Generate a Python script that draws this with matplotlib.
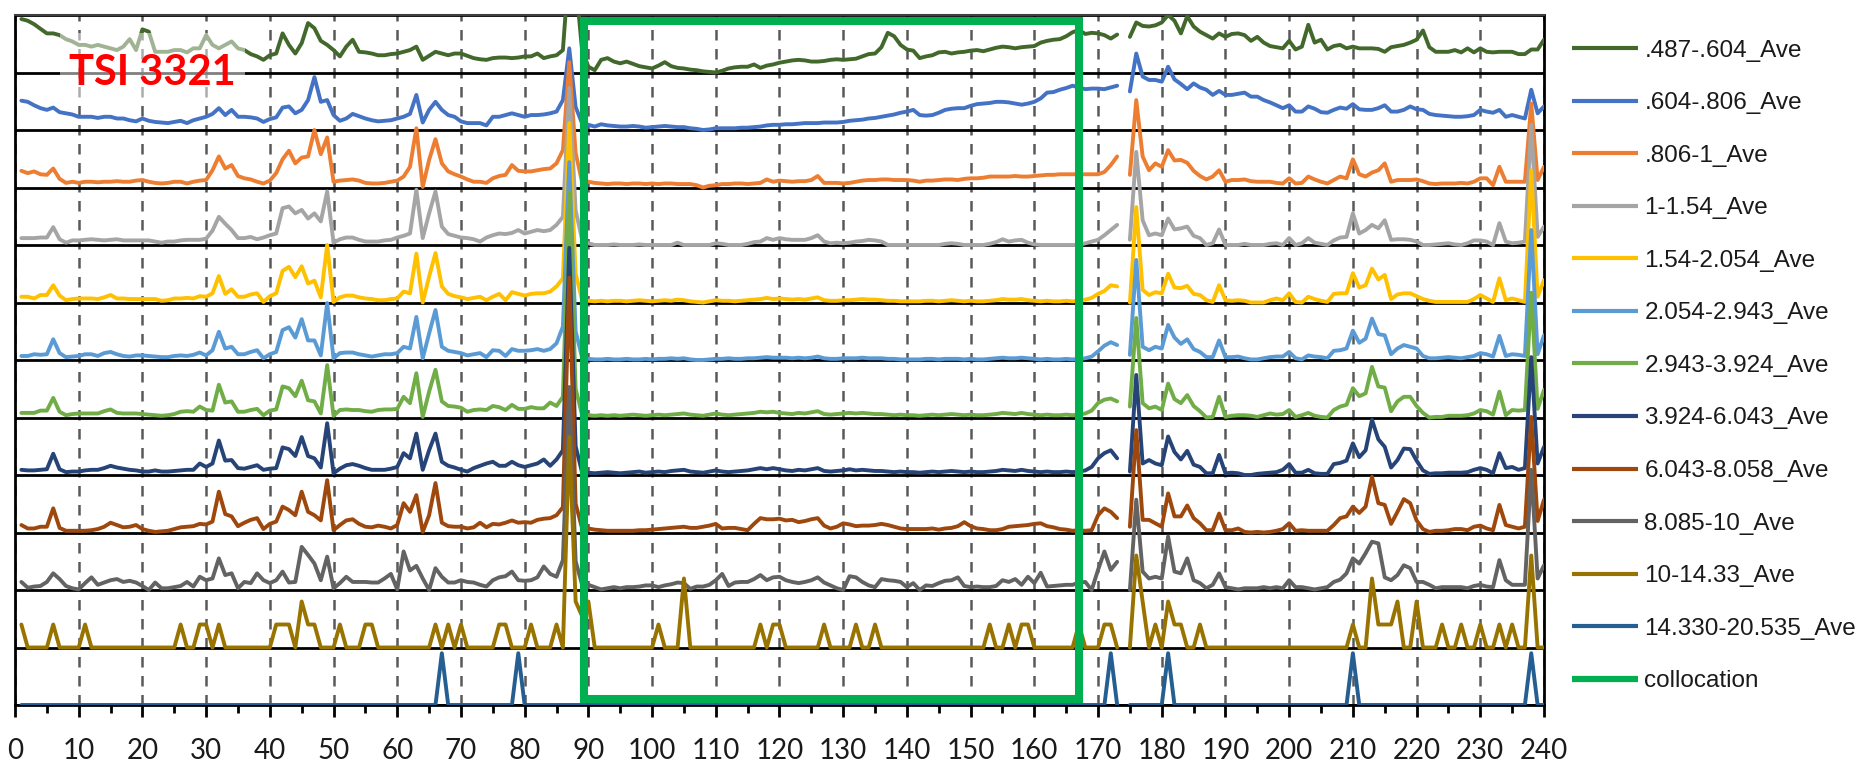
import numpy as np
import matplotlib
matplotlib.use("Agg")
import matplotlib.pyplot as plt
from matplotlib.lines import Line2D
from matplotlib.patches import Polygon, Rectangle

nan = float("nan")

# sample index (1..240); every channel is plotted in its own band of height 1
x = np.arange(1, 241)

labels = [".487-.604_Ave", ".604-.806_Ave", ".806-1_Ave", "1-1.54_Ave",
          "1.54-2.054_Ave", "2.054-2.943_Ave", "2.943-3.924_Ave",
          "3.924-6.043_Ave", "6.043-8.058_Ave", "8.085-10_Ave",
          "10-14.33_Ave", "14.330-20.535_Ave"]
colors = ["#43682b", "#4472c4", "#ed7d31", "#a5a5a5", "#ffc000", "#5b9bd5",
          "#70ad47", "#264478", "#9e480e", "#636363", "#997300", "#255e91"]

s_0487 = [0.93, 0.90, 0.84, 0.76, 0.68, 0.68, 0.65, 0.58, 0.54, 0.48,
          0.48, 0.45, 0.48, 0.45, 0.42, 0.39, 0.45, 0.58, 0.39, 0.75,
          0.71, 0.36, 0.36, 0.36, 0.39, 0.39, 0.35, 0.42, 0.42, 0.65,
          0.48, 0.42, 0.48, 0.54, 0.42, 0.39, 0.32, 0.28, 0.22, 0.30,
          0.33, 0.68, 0.48, 0.33, 0.51, 0.86, 0.77, 0.55, 0.48, 0.39,
          0.28, 0.45, 0.57, 0.36, 0.35, 0.33, 0.30, 0.30, 0.32, 0.33,
          0.36, 0.39, 0.45, 0.22, 0.29, 0.36, 0.33, 0.30, 0.33, 0.33,
          0.29, 0.25, 0.23, 0.22, 0.25, 0.26, 0.26, 0.25, 0.26, 0.28,
          0.28, 0.33, 0.25, 0.28, 0.30, 0.39, 1.90, 1.60, 0.40, 0.10,
          0.04, 0.22, 0.25, 0.19, 0.16, 0.19, 0.15, 0.11, 0.09, 0.07,
          0.12, 0.18, 0.11, 0.08, 0.07, 0.05, 0.04, 0.02, 0.01, 0.00,
          0.03, 0.07, 0.09, 0.10, 0.10, 0.14, 0.08, 0.12, 0.14, 0.17,
          0.19, 0.21, 0.22, 0.21, 0.19, 0.19, 0.20, 0.22, 0.23, 0.22,
          0.23, 0.24, 0.28, 0.32, 0.33, 0.44, 0.69, 0.63, 0.48, 0.40,
          0.38, 0.25, 0.28, 0.30, 0.35, 0.36, 0.33, 0.35, 0.36, 0.38,
          0.39, 0.37, 0.40, 0.43, 0.45, 0.44, 0.42, 0.44, 0.45, 0.46,
          0.52, 0.55, 0.57, 0.58, 0.63, 0.70, 0.74, 0.67, 0.69, 0.68,
          0.65, 0.59, 0.66, nan, 0.62, 0.87, 0.81, 0.80, 0.82, 0.87,
          1.00, 0.90, 0.68, 0.98, 0.80, 0.71, 0.65, 0.59, 0.68, 0.62,
          0.67, 0.68, 0.65, 0.55, 0.62, 0.52, 0.46, 0.44, 0.42, 0.55,
          0.40, 0.45, 0.83, 0.52, 0.57, 0.40, 0.46, 0.48, 0.42, 0.45,
          0.42, 0.42, 0.42, 0.41, 0.36, 0.44, 0.46, 0.48, 0.52, 0.57,
          0.73, 0.44, 0.36, 0.36, 0.36, 0.39, 0.35, 0.42, 0.35, 0.42,
          0.36, 0.35, 0.36, 0.36, 0.36, 0.32, 0.32, 0.40, 0.40, 0.57]

s_0604 = [0.51, 0.49, 0.43, 0.38, 0.35, 0.39, 0.31, 0.29, 0.27, 0.23,
          0.23, 0.23, 0.21, 0.23, 0.23, 0.20, 0.20, 0.17, 0.15, 0.20,
          0.16, 0.14, 0.13, 0.12, 0.14, 0.16, 0.12, 0.17, 0.20, 0.23,
          0.28, 0.38, 0.26, 0.35, 0.23, 0.23, 0.22, 0.20, 0.14, 0.19,
          0.22, 0.39, 0.41, 0.29, 0.35, 0.52, 0.92, 0.49, 0.52, 0.26,
          0.16, 0.20, 0.28, 0.24, 0.20, 0.17, 0.15, 0.16, 0.17, 0.20,
          0.23, 0.28, 0.61, 0.13, 0.35, 0.49, 0.35, 0.26, 0.23, 0.15,
          0.12, 0.12, 0.12, 0.08, 0.23, 0.23, 0.26, 0.29, 0.26, 0.23,
          0.26, 0.26, 0.27, 0.29, 0.32, 0.52, 1.42, 0.40, 0.12, 0.09,
          0.06, 0.10, 0.08, 0.07, 0.06, 0.06, 0.07, 0.06, 0.04, 0.05,
          0.06, 0.07, 0.06, 0.05, 0.05, 0.03, 0.02, 0.00, 0.01, 0.03,
          0.03, 0.03, 0.03, 0.04, 0.04, 0.05, 0.06, 0.08, 0.09, 0.09,
          0.10, 0.10, 0.11, 0.12, 0.12, 0.12, 0.13, 0.13, 0.13, 0.14,
          0.16, 0.17, 0.18, 0.20, 0.21, 0.23, 0.25, 0.27, 0.30, 0.32,
          0.35, 0.26, 0.25, 0.26, 0.30, 0.35, 0.37, 0.38, 0.38, 0.42,
          0.45, 0.46, 0.47, 0.49, 0.49, 0.48, 0.46, 0.44, 0.46, 0.49,
          0.55, 0.65, 0.66, 0.70, 0.73, 0.77, 0.74, 0.71, 0.72, 0.72,
          0.71, 0.74, 0.77, nan, 0.67, 1.33, 0.93, 0.87, 0.87, 0.84,
          1.10, 0.88, 0.80, 0.71, 0.81, 0.74, 0.70, 0.61, 0.68, 0.61,
          0.61, 0.63, 0.65, 0.58, 0.58, 0.52, 0.48, 0.43, 0.38, 0.43,
          0.32, 0.32, 0.41, 0.37, 0.31, 0.30, 0.35, 0.39, 0.37, 0.45,
          0.36, 0.35, 0.35, 0.38, 0.43, 0.32, 0.32, 0.35, 0.41, 0.36,
          0.35, 0.28, 0.26, 0.25, 0.24, 0.23, 0.23, 0.24, 0.26, 0.35,
          0.32, 0.30, 0.35, 0.23, 0.26, 0.23, 0.20, 0.70, 0.29, 0.41]

s_0806 = [0.29, 0.25, 0.28, 0.23, 0.22, 0.33, 0.15, 0.08, 0.10, 0.08,
          0.10, 0.10, 0.09, 0.10, 0.10, 0.11, 0.10, 0.10, 0.12, 0.13,
          0.10, 0.08, 0.07, 0.08, 0.10, 0.10, 0.07, 0.10, 0.12, 0.13,
          0.30, 0.54, 0.33, 0.39, 0.20, 0.16, 0.14, 0.10, 0.07, 0.12,
          0.25, 0.49, 0.64, 0.42, 0.52, 0.54, 1.00, 0.58, 0.87, 0.10,
          0.12, 0.13, 0.14, 0.12, 0.08, 0.07, 0.07, 0.08, 0.10, 0.12,
          0.19, 0.36, 1.03, 0.01, 0.48, 0.84, 0.42, 0.28, 0.23, 0.19,
          0.14, 0.10, 0.10, 0.08, 0.16, 0.20, 0.22, 0.39, 0.29, 0.28,
          0.28, 0.30, 0.32, 0.33, 0.42, 0.65, 2.18, 0.60, 0.10, 0.10,
          0.08, 0.07, 0.06, 0.07, 0.07, 0.06, 0.07, 0.07, 0.06, 0.07,
          0.06, 0.07, 0.07, 0.06, 0.06, 0.06, 0.04, 0.00, 0.03, 0.04,
          0.06, 0.06, 0.07, 0.07, 0.06, 0.07, 0.08, 0.14, 0.10, 0.12,
          0.11, 0.10, 0.11, 0.11, 0.13, 0.20, 0.08, 0.08, 0.08, 0.07,
          0.08, 0.10, 0.12, 0.13, 0.13, 0.14, 0.14, 0.13, 0.13, 0.13,
          0.12, 0.10, 0.12, 0.12, 0.13, 0.14, 0.14, 0.13, 0.15, 0.16,
          0.16, 0.17, 0.19, 0.19, 0.19, 0.19, 0.20, 0.19, 0.19, 0.20,
          0.21, 0.22, 0.22, 0.23, 0.23, 0.23, 0.23, 0.23, 0.23, 0.23,
          0.27, 0.39, 0.54, nan, 0.22, 1.52, 0.54, 0.30, 0.42, 0.36,
          0.65, 0.47, 0.48, 0.43, 0.29, 0.20, 0.14, 0.19, 0.30, 0.10,
          0.13, 0.13, 0.14, 0.11, 0.10, 0.10, 0.10, 0.08, 0.07, 0.16,
          0.07, 0.08, 0.19, 0.14, 0.10, 0.07, 0.13, 0.19, 0.16, 0.49,
          0.23, 0.19, 0.26, 0.30, 0.42, 0.10, 0.13, 0.13, 0.13, 0.14,
          0.11, 0.07, 0.06, 0.07, 0.07, 0.07, 0.08, 0.07, 0.10, 0.16,
          0.16, 0.04, 0.36, 0.10, 0.10, 0.10, 0.10, 1.46, 0.13, 0.36]

s_1 = [0.12, 0.12, 0.12, 0.13, 0.13, 0.31, 0.10, 0.04, 0.08, 0.08,
       0.09, 0.10, 0.09, 0.08, 0.09, 0.10, 0.08, 0.08, 0.08, 0.08,
       0.08, 0.06, 0.04, 0.06, 0.06, 0.08, 0.09, 0.09, 0.09, 0.11,
       0.25, 0.49, 0.37, 0.26, 0.12, 0.12, 0.14, 0.10, 0.13, 0.17,
       0.20, 0.64, 0.67, 0.55, 0.61, 0.46, 0.55, 0.41, 0.93, 0.04,
       0.10, 0.13, 0.13, 0.09, 0.06, 0.06, 0.06, 0.08, 0.09, 0.13,
       0.16, 0.20, 0.96, 0.12, 0.55, 0.93, 0.32, 0.19, 0.16, 0.13,
       0.12, 0.10, 0.06, 0.13, 0.17, 0.20, 0.19, 0.21, 0.26, 0.20,
       0.23, 0.26, 0.24, 0.26, 0.35, 0.49, 2.73, 0.60, 0.10, 0.03,
       0.00, 0.00, 0.00, 0.01, 0.00, 0.00, 0.00, 0.01, 0.00, 0.00,
       0.00, 0.00, 0.00, 0.04, 0.00, 0.00, 0.00, 0.00, 0.00, 0.03,
       0.02, 0.00, 0.00, 0.00, 0.02, 0.05, 0.06, 0.12, 0.09, 0.12,
       0.10, 0.09, 0.09, 0.09, 0.12, 0.17, 0.06, 0.03, 0.04, 0.03,
       0.04, 0.06, 0.07, 0.09, 0.08, 0.06, 0.00, 0.00, 0.00, 0.00,
       0.00, 0.00, 0.00, 0.00, 0.00, 0.02, 0.03, 0.02, 0.00, 0.00,
       0.00, 0.00, 0.02, 0.05, 0.10, 0.06, 0.08, 0.09, 0.04, 0.01,
       0.00, 0.00, 0.00, 0.00, 0.00, 0.00, 0.00, 0.03, 0.06, 0.09,
       0.17, 0.26, 0.35, nan, 0.09, 1.62, 0.43, 0.17, 0.20, 0.17,
       0.46, 0.27, 0.29, 0.32, 0.16, 0.12, 0.00, 0.03, 0.27, 0.00,
       0.00, 0.00, 0.02, 0.00, 0.00, 0.00, 0.02, 0.03, 0.00, 0.12,
       0.00, 0.03, 0.12, 0.04, 0.02, 0.00, 0.08, 0.13, 0.14, 0.55,
       0.20, 0.26, 0.35, 0.29, 0.43, 0.09, 0.10, 0.10, 0.09, 0.06,
       0.00, 0.00, 0.01, 0.02, 0.03, 0.01, 0.00, 0.03, 0.08, 0.08,
       0.06, 0.00, 0.38, 0.06, 0.03, 0.04, 0.06, 2.09, 0.14, 0.32]

s_154 = [0.10, 0.10, 0.07, 0.13, 0.13, 0.30, 0.12, 0.04, 0.06, 0.07,
         0.07, 0.07, 0.06, 0.09, 0.13, 0.07, 0.07, 0.06, 0.06, 0.06,
         0.06, 0.06, 0.03, 0.04, 0.07, 0.07, 0.08, 0.07, 0.11, 0.10,
         0.16, 0.46, 0.15, 0.23, 0.10, 0.10, 0.14, 0.16, 0.01, 0.11,
         0.16, 0.55, 0.62, 0.44, 0.63, 0.33, 0.38, 0.09, 1.00, 0.01,
         0.09, 0.12, 0.12, 0.09, 0.07, 0.06, 0.04, 0.04, 0.06, 0.07,
         0.19, 0.16, 0.85, 0.00, 0.45, 0.86, 0.28, 0.15, 0.11, 0.09,
         0.06, 0.08, 0.10, 0.04, 0.10, 0.15, 0.04, 0.18, 0.15, 0.12,
         0.15, 0.16, 0.16, 0.19, 0.28, 0.42, 3.12, 0.50, 0.05, 0.03,
         0.02, 0.03, 0.02, 0.03, 0.03, 0.02, 0.03, 0.04, 0.03, 0.02,
         0.03, 0.04, 0.03, 0.05, 0.04, 0.02, 0.01, 0.00, 0.02, 0.04,
         0.03, 0.03, 0.02, 0.03, 0.04, 0.05, 0.06, 0.08, 0.06, 0.07,
         0.06, 0.05, 0.06, 0.05, 0.07, 0.09, 0.04, 0.03, 0.03, 0.04,
         0.04, 0.05, 0.06, 0.05, 0.05, 0.04, 0.03, 0.03, 0.02, 0.02,
         0.02, 0.02, 0.03, 0.03, 0.02, 0.03, 0.04, 0.03, 0.02, 0.03,
         0.02, 0.02, 0.03, 0.04, 0.06, 0.05, 0.05, 0.06, 0.04, 0.03,
         0.02, 0.03, 0.02, 0.02, 0.03, 0.02, 0.03, 0.05, 0.08, 0.15,
         0.20, 0.30, 0.28, nan, 0.00, 1.66, 0.22, 0.13, 0.18, 0.16,
         0.50, 0.26, 0.25, 0.29, 0.15, 0.13, 0.04, 0.01, 0.30, 0.04,
         0.03, 0.04, 0.03, 0.00, 0.00, 0.00, 0.04, 0.07, 0.04, 0.16,
         0.01, 0.00, 0.10, 0.06, 0.03, 0.01, 0.15, 0.16, 0.16, 0.51,
         0.26, 0.30, 0.59, 0.40, 0.48, 0.06, 0.14, 0.16, 0.16, 0.11,
         0.06, 0.03, 0.01, 0.01, 0.01, 0.01, 0.01, 0.01, 0.06, 0.13,
         0.07, 0.01, 0.42, 0.04, 0.07, 0.04, 0.01, 2.30, 0.10, 0.39]

s_2054 = [0.07, 0.07, 0.10, 0.09, 0.10, 0.36, 0.12, 0.05, 0.06, 0.07,
          0.10, 0.10, 0.07, 0.12, 0.14, 0.10, 0.07, 0.06, 0.08, 0.08,
          0.07, 0.06, 0.05, 0.05, 0.07, 0.08, 0.07, 0.09, 0.13, 0.08,
          0.17, 0.49, 0.20, 0.23, 0.10, 0.10, 0.14, 0.17, 0.03, 0.10,
          0.14, 0.52, 0.57, 0.39, 0.71, 0.34, 0.34, 0.08, 0.99, 0.03,
          0.12, 0.13, 0.13, 0.10, 0.08, 0.06, 0.08, 0.10, 0.10, 0.12,
          0.23, 0.20, 0.75, 0.03, 0.46, 0.87, 0.23, 0.16, 0.14, 0.12,
          0.08, 0.10, 0.12, 0.05, 0.17, 0.16, 0.07, 0.19, 0.16, 0.16,
          0.17, 0.19, 0.16, 0.19, 0.29, 0.58, 3.44, 0.50, 0.05, 0.02,
          0.01, 0.01, 0.02, 0.01, 0.01, 0.02, 0.01, 0.01, 0.02, 0.01,
          0.02, 0.02, 0.03, 0.02, 0.03, 0.01, 0.00, 0.00, 0.01, 0.02,
          0.02, 0.03, 0.02, 0.02, 0.03, 0.03, 0.04, 0.05, 0.04, 0.04,
          0.04, 0.03, 0.04, 0.03, 0.04, 0.06, 0.03, 0.02, 0.02, 0.03,
          0.03, 0.03, 0.04, 0.03, 0.03, 0.03, 0.02, 0.02, 0.01, 0.01,
          0.01, 0.01, 0.02, 0.02, 0.01, 0.02, 0.02, 0.02, 0.01, 0.02,
          0.01, 0.01, 0.02, 0.03, 0.04, 0.03, 0.03, 0.04, 0.03, 0.02,
          0.01, 0.02, 0.01, 0.01, 0.02, 0.01, 0.02, 0.03, 0.06, 0.15,
          0.25, 0.31, 0.26, nan, 0.09, 1.74, 0.23, 0.17, 0.23, 0.20,
          0.61, 0.39, 0.28, 0.36, 0.19, 0.14, 0.05, 0.05, 0.34, 0.05,
          0.05, 0.06, 0.03, 0.01, 0.01, 0.03, 0.05, 0.06, 0.06, 0.14,
          0.03, 0.01, 0.08, 0.06, 0.05, 0.03, 0.16, 0.17, 0.20, 0.51,
          0.30, 0.37, 0.72, 0.45, 0.43, 0.10, 0.20, 0.26, 0.23, 0.20,
          0.07, 0.03, 0.03, 0.04, 0.05, 0.04, 0.03, 0.05, 0.07, 0.12,
          0.10, 0.06, 0.42, 0.07, 0.10, 0.09, 0.07, 2.26, 0.10, 0.43]

s_2943 = [0.08, 0.08, 0.08, 0.12, 0.12, 0.34, 0.10, 0.04, 0.06, 0.07,
          0.07, 0.07, 0.07, 0.11, 0.14, 0.08, 0.07, 0.07, 0.07, 0.06,
          0.05, 0.04, 0.03, 0.04, 0.06, 0.10, 0.11, 0.10, 0.19, 0.13,
          0.12, 0.57, 0.26, 0.28, 0.10, 0.10, 0.13, 0.15, 0.04, 0.12,
          0.14, 0.54, 0.51, 0.37, 0.64, 0.30, 0.28, 0.07, 0.91, 0.03,
          0.13, 0.14, 0.13, 0.13, 0.11, 0.10, 0.13, 0.14, 0.14, 0.15,
          0.36, 0.25, 0.77, 0.01, 0.45, 0.83, 0.28, 0.20, 0.19, 0.17,
          0.10, 0.13, 0.14, 0.13, 0.20, 0.18, 0.13, 0.22, 0.15, 0.15,
          0.18, 0.16, 0.16, 0.26, 0.20, 0.36, 3.92, 0.50, 0.05, 0.04,
          0.03, 0.04, 0.03, 0.04, 0.03, 0.04, 0.05, 0.04, 0.03, 0.04,
          0.05, 0.04, 0.05, 0.06, 0.07, 0.05, 0.04, 0.03, 0.05, 0.07,
          0.05, 0.04, 0.05, 0.06, 0.07, 0.08, 0.10, 0.09, 0.10, 0.08,
          0.07, 0.06, 0.08, 0.07, 0.09, 0.11, 0.06, 0.05, 0.06, 0.07,
          0.08, 0.07, 0.08, 0.07, 0.06, 0.06, 0.05, 0.04, 0.05, 0.04,
          0.04, 0.03, 0.04, 0.05, 0.04, 0.05, 0.06, 0.05, 0.04, 0.05,
          0.04, 0.04, 0.05, 0.06, 0.08, 0.07, 0.06, 0.08, 0.06, 0.05,
          0.04, 0.05, 0.04, 0.04, 0.05, 0.04, 0.05, 0.07, 0.12, 0.25,
          0.31, 0.33, 0.28, nan, 0.19, 1.73, 0.25, 0.16, 0.19, 0.13,
          0.59, 0.32, 0.25, 0.39, 0.20, 0.11, 0.00, 0.01, 0.36, 0.01,
          0.03, 0.04, 0.04, 0.03, 0.01, 0.04, 0.07, 0.05, 0.06, 0.13,
          0.01, 0.04, 0.08, 0.03, 0.01, 0.00, 0.13, 0.19, 0.22, 0.51,
          0.37, 0.42, 0.88, 0.54, 0.52, 0.11, 0.28, 0.36, 0.36, 0.20,
          0.08, 0.00, 0.01, 0.01, 0.03, 0.03, 0.03, 0.04, 0.07, 0.13,
          0.11, 0.05, 0.45, 0.04, 0.13, 0.12, 0.13, 2.17, 0.15, 0.48]

s_3924 = [0.09, 0.08, 0.08, 0.09, 0.10, 0.37, 0.10, 0.05, 0.06, 0.06,
          0.08, 0.09, 0.09, 0.12, 0.16, 0.13, 0.11, 0.09, 0.08, 0.06,
          0.06, 0.08, 0.06, 0.06, 0.07, 0.08, 0.09, 0.09, 0.20, 0.14,
          0.20, 0.60, 0.25, 0.26, 0.12, 0.11, 0.14, 0.17, 0.09, 0.11,
          0.12, 0.48, 0.45, 0.33, 0.66, 0.33, 0.29, 0.13, 0.90, 0.03,
          0.11, 0.17, 0.19, 0.16, 0.12, 0.09, 0.09, 0.09, 0.11, 0.14,
          0.38, 0.29, 0.72, 0.09, 0.43, 0.72, 0.23, 0.16, 0.13, 0.09,
          0.06, 0.12, 0.16, 0.20, 0.23, 0.16, 0.16, 0.23, 0.17, 0.14,
          0.17, 0.20, 0.27, 0.16, 0.27, 0.43, 3.95, 0.50, 0.05, 0.04,
          0.03, 0.04, 0.05, 0.04, 0.03, 0.04, 0.05, 0.06, 0.04, 0.05,
          0.06, 0.05, 0.07, 0.08, 0.09, 0.06, 0.05, 0.04, 0.06, 0.08,
          0.06, 0.05, 0.06, 0.07, 0.08, 0.10, 0.12, 0.10, 0.12, 0.10,
          0.08, 0.07, 0.09, 0.08, 0.10, 0.12, 0.07, 0.06, 0.07, 0.08,
          0.10, 0.08, 0.09, 0.08, 0.07, 0.07, 0.06, 0.05, 0.06, 0.05,
          0.05, 0.04, 0.05, 0.06, 0.05, 0.06, 0.07, 0.06, 0.05, 0.06,
          0.05, 0.05, 0.06, 0.07, 0.09, 0.08, 0.07, 0.09, 0.07, 0.06,
          0.05, 0.06, 0.05, 0.05, 0.06, 0.05, 0.06, 0.08, 0.14, 0.29,
          0.38, 0.43, 0.29, nan, 0.06, 1.74, 0.20, 0.26, 0.20, 0.17,
          0.67, 0.40, 0.27, 0.42, 0.18, 0.14, 0.03, 0.03, 0.35, 0.03,
          0.04, 0.03, 0.00, 0.00, 0.02, 0.03, 0.04, 0.05, 0.09, 0.19,
          0.04, 0.04, 0.09, 0.03, 0.02, 0.02, 0.19, 0.21, 0.25, 0.55,
          0.31, 0.43, 0.96, 0.62, 0.49, 0.13, 0.26, 0.46, 0.45, 0.25,
          0.08, 0.02, 0.03, 0.03, 0.04, 0.04, 0.04, 0.05, 0.09, 0.12,
          0.09, 0.03, 0.38, 0.12, 0.14, 0.09, 0.12, 2.05, 0.20, 0.49]

s_6043 = [0.13, 0.07, 0.07, 0.10, 0.10, 0.42, 0.08, 0.03, 0.03, 0.03,
          0.03, 0.04, 0.06, 0.10, 0.17, 0.13, 0.09, 0.10, 0.13, 0.06,
          0.03, 0.01, 0.02, 0.03, 0.06, 0.09, 0.10, 0.11, 0.15, 0.14,
          0.19, 0.71, 0.32, 0.28, 0.11, 0.17, 0.22, 0.25, 0.06, 0.15,
          0.19, 0.45, 0.39, 0.30, 0.71, 0.36, 0.30, 0.21, 0.91, 0.04,
          0.13, 0.21, 0.23, 0.15, 0.10, 0.09, 0.12, 0.10, 0.07, 0.13,
          0.51, 0.36, 0.65, 0.01, 0.30, 0.86, 0.17, 0.11, 0.10, 0.10,
          0.07, 0.09, 0.17, 0.09, 0.15, 0.14, 0.17, 0.21, 0.17, 0.18,
          0.17, 0.22, 0.24, 0.25, 0.30, 0.44, 4.43, 0.50, 0.08, 0.07,
          0.05, 0.04, 0.03, 0.03, 0.03, 0.03, 0.03, 0.04, 0.04, 0.05,
          0.06, 0.07, 0.08, 0.09, 0.10, 0.08, 0.08, 0.10, 0.12, 0.15,
          0.07, 0.08, 0.08, 0.06, 0.04, 0.15, 0.25, 0.23, 0.23, 0.24,
          0.21, 0.22, 0.18, 0.20, 0.23, 0.25, 0.12, 0.07, 0.10, 0.16,
          0.14, 0.11, 0.12, 0.12, 0.13, 0.15, 0.13, 0.10, 0.07, 0.06,
          0.06, 0.06, 0.06, 0.07, 0.05, 0.07, 0.08, 0.11, 0.18, 0.11,
          0.07, 0.06, 0.04, 0.04, 0.06, 0.10, 0.11, 0.12, 0.13, 0.15,
          0.16, 0.11, 0.09, 0.06, 0.05, 0.03, 0.04, 0.03, 0.04, 0.30,
          0.42, 0.36, 0.25, nan, 0.10, 1.78, 0.22, 0.22, 0.16, 0.10,
          0.68, 0.28, 0.28, 0.47, 0.25, 0.16, 0.04, 0.04, 0.33, 0.04,
          0.04, 0.07, 0.01, 0.00, 0.01, 0.00, 0.01, 0.03, 0.06, 0.16,
          0.03, 0.04, 0.03, 0.03, 0.03, 0.03, 0.13, 0.25, 0.28, 0.45,
          0.34, 0.45, 0.97, 0.51, 0.48, 0.15, 0.36, 0.58, 0.51, 0.21,
          0.06, 0.01, 0.03, 0.03, 0.04, 0.06, 0.06, 0.04, 0.10, 0.12,
          0.07, 0.04, 0.48, 0.13, 0.10, 0.07, 0.10, 2.01, 0.20, 0.57]

s_8085 = [0.14, 0.04, 0.06, 0.07, 0.14, 0.29, 0.19, 0.07, 0.03, 0.01,
          0.12, 0.22, 0.09, 0.13, 0.17, 0.19, 0.14, 0.16, 0.13, 0.07,
          0.00, 0.13, 0.03, 0.03, 0.05, 0.07, 0.14, 0.06, 0.23, 0.17,
          0.20, 0.55, 0.26, 0.29, 0.03, 0.14, 0.12, 0.29, 0.17, 0.12,
          0.17, 0.32, 0.13, 0.14, 0.75, 0.61, 0.46, 0.17, 0.58, 0.03,
          0.12, 0.23, 0.14, 0.14, 0.14, 0.13, 0.13, 0.20, 0.28, 0.01,
          0.67, 0.34, 0.42, 0.20, 0.00, 0.38, 0.23, 0.13, 0.13, 0.17,
          0.14, 0.13, 0.09, 0.06, 0.17, 0.22, 0.24, 0.32, 0.17, 0.16,
          0.17, 0.22, 0.41, 0.28, 0.23, 0.52, 3.53, 0.50, 0.10, 0.09,
          0.05, 0.01, 0.03, 0.05, 0.03, 0.05, 0.05, 0.06, 0.08, 0.08,
          0.05, 0.08, 0.10, 0.13, 0.12, 0.02, 0.06, 0.06, 0.09, 0.17,
          0.28, 0.07, 0.13, 0.14, 0.14, 0.19, 0.26, 0.17, 0.22, 0.23,
          0.17, 0.14, 0.12, 0.14, 0.17, 0.22, 0.13, 0.08, 0.03, 0.00,
          0.24, 0.22, 0.14, 0.08, 0.05, 0.19, 0.17, 0.16, 0.14, 0.05,
          0.12, 0.00, 0.08, 0.07, 0.12, 0.16, 0.17, 0.22, 0.07, 0.05,
          0.06, 0.05, 0.05, 0.07, 0.17, 0.14, 0.19, 0.09, 0.23, 0.12,
          0.30, 0.06, 0.07, 0.08, 0.09, 0.09, 0.13, 0.14, 0.00, 0.35,
          0.67, 0.35, 0.49, nan, 0.00, 1.57, 0.32, 0.20, 0.23, 0.20,
          0.93, 0.32, 0.29, 0.55, 0.17, 0.12, 0.03, 0.09, 0.29, 0.05,
          0.03, 0.01, 0.03, 0.03, 0.03, 0.05, 0.03, 0.05, 0.03, 0.17,
          0.05, 0.05, 0.03, 0.01, 0.03, 0.05, 0.14, 0.18, 0.29, 0.55,
          0.46, 0.64, 0.84, 0.81, 0.22, 0.17, 0.26, 0.43, 0.38, 0.14,
          0.14, 0.09, 0.03, 0.05, 0.05, 0.05, 0.05, 0.03, 0.07, 0.09,
          0.06, 0.05, 0.52, 0.17, 0.09, 0.09, 0.09, 2.09, 0.20, 0.43]

s_10 = [0.40, 0.00, 0.00, 0.00, 0.00, 0.40, 0.00, 0.00, 0.00, 0.00,
        0.40, 0.00, 0.00, 0.00, 0.00, 0.00, 0.00, 0.00, 0.00, 0.00,
        0.00, 0.00, 0.00, 0.00, 0.00, 0.40, 0.00, 0.00, 0.40, 0.40,
        0.00, 0.40, 0.00, 0.00, 0.00, 0.00, 0.00, 0.00, 0.00, 0.00,
        0.40, 0.40, 0.40, 0.00, 0.80, 0.40, 0.40, 0.00, 0.00, 0.00,
        0.40, 0.00, 0.00, 0.00, 0.40, 0.40, 0.00, 0.00, 0.00, 0.00,
        0.00, 0.00, 0.00, 0.00, 0.00, 0.40, 0.00, 0.40, 0.00, 0.40,
        0.00, 0.00, 0.00, 0.00, 0.00, 0.40, 0.40, 0.00, 0.00, 0.00,
        0.40, 0.00, 0.00, 0.00, 0.40, 0.00, 3.66, 0.80, 0.55, 0.80,
        0.00, 0.00, 0.00, 0.00, 0.00, 0.00, 0.00, 0.00, 0.00, 0.00,
        0.40, 0.00, 0.00, 0.00, 1.20, 0.00, 0.00, 0.00, 0.00, 0.00,
        0.00, 0.00, 0.00, 0.00, 0.00, 0.00, 0.40, 0.00, 0.40, 0.40,
        0.00, 0.00, 0.00, 0.00, 0.00, 0.00, 0.40, 0.00, 0.00, 0.00,
        0.00, 0.40, 0.00, 0.00, 0.40, 0.00, 0.00, 0.00, 0.00, 0.00,
        0.00, 0.00, 0.00, 0.00, 0.00, 0.00, 0.00, 0.00, 0.00, 0.00,
        0.00, 0.00, 0.40, 0.00, 0.00, 0.40, 0.00, 0.40, 0.40, 0.00,
        0.00, 0.00, 0.00, 0.00, 0.00, 0.00, 0.40, 0.00, 0.00, 0.00,
        0.40, 0.40, 0.00, nan, 0.00, 1.60, 0.80, 0.00, 0.40, 0.00,
        0.80, 0.40, 0.40, 0.00, 0.00, 0.40, 0.00, 0.00, 0.00, 0.00,
        0.00, 0.00, 0.00, 0.00, 0.00, 0.00, 0.00, 0.00, 0.00, 0.00,
        0.00, 0.00, 0.00, 0.00, 0.00, 0.00, 0.00, 0.00, 0.00, 0.40,
        0.00, 0.00, 1.20, 0.40, 0.40, 0.40, 0.80, 0.00, 0.00, 0.80,
        0.00, 0.00, 0.00, 0.40, 0.00, 0.00, 0.40, 0.00, 0.00, 0.40,
        0.00, 0.00, 0.40, 0.00, 0.40, 0.00, 0.00, 1.60, 0.00, 0.00]

s_1433 = [0.00, 0.00, 0.00, 0.00, 0.00, 0.00, 0.00, 0.00, 0.00, 0.00,
          0.00, 0.00, 0.00, 0.00, 0.00, 0.00, 0.00, 0.00, 0.00, 0.00,
          0.00, 0.00, 0.00, 0.00, 0.00, 0.00, 0.00, 0.00, 0.00, 0.00,
          0.00, 0.00, 0.00, 0.00, 0.00, 0.00, 0.00, 0.00, 0.00, 0.00,
          0.00, 0.00, 0.00, 0.00, 0.00, 0.00, 0.00, 0.00, 0.00, 0.00,
          0.00, 0.00, 0.00, 0.00, 0.00, 0.00, 0.00, 0.00, 0.00, 0.00,
          0.00, 0.00, 0.00, 0.00, 0.00, 0.00, 0.90, 0.00, 0.00, 0.00,
          0.00, 0.00, 0.00, 0.00, 0.00, 0.00, 0.00, 0.00, 0.90, 0.00,
          0.00, 0.00, 0.00, 0.00, 0.00, 0.00, 0.00, 0.00, 0.00, 0.00,
          0.00, 0.00, 0.00, 0.00, 0.00, 0.00, 0.00, 0.00, 0.00, 0.00,
          0.00, 0.00, 0.00, 0.00, 0.00, 0.00, 0.00, 0.00, 0.00, 0.00,
          0.00, 0.00, 0.00, 0.00, 0.00, 0.00, 0.00, 0.00, 0.00, 0.00,
          0.00, 0.00, 0.00, 0.00, 0.00, 0.00, 0.00, 0.00, 0.00, 0.00,
          0.00, 0.00, 0.00, 0.00, 0.00, 0.00, 0.00, 0.00, 0.00, 0.00,
          0.00, 0.00, 0.00, 0.00, 0.00, 0.00, 0.00, 0.00, 0.00, 0.00,
          0.00, 0.00, 0.00, 0.00, 0.00, 0.00, 0.00, 0.00, 0.00, 0.00,
          0.00, 0.00, 0.00, 0.00, 0.00, 0.00, 0.00, 0.00, 0.00, 0.00,
          0.00, 0.90, 0.00, nan, 0.00, 0.00, 0.00, 0.00, 0.00, 0.00,
          0.90, 0.00, 0.00, 0.00, 0.00, 0.00, 0.00, 0.00, 0.00, 0.00,
          0.00, 0.00, 0.00, 0.00, 0.00, 0.00, 0.00, 0.00, 0.00, 0.00,
          0.00, 0.00, 0.00, 0.00, 0.00, 0.00, 0.00, 0.00, 0.00, 0.90,
          0.00, 0.00, 0.00, 0.00, 0.00, 0.00, 0.00, 0.00, 0.00, 0.00,
          0.00, 0.00, 0.00, 0.00, 0.00, 0.00, 0.00, 0.00, 0.00, 0.00,
          0.00, 0.00, 0.00, 0.00, 0.00, 0.00, 0.00, 0.90, 0.00, 0.00]

series = [s_0487, s_0604, s_0806, s_1, s_154, s_2054, s_2943, s_3924,
          s_6043, s_8085, s_10, s_1433]

# collocation window outline
colloc_x = [89.25, 89.25, 167.0, 167.0]
colloc_y = [11.90, 0.10, 0.10, 11.90]

xticks = list(range(0, 241, 10))

plt.rcParams["font.family"] = ["Lato", "DejaVu Sans"]

fig = plt.figure(figsize=(18.65, 7.65), dpi=100)
ax = fig.add_axes([15 / 1865, 60 / 765, 1529 / 1865, 690 / 765])
ax.set_xlim(0, 240)
ax.set_ylim(0, 12)

n = len(series)
for i, (vals, col, lab) in enumerate(zip(series, colors, labels)):
    base = n - 1 - i
    ax.plot(x, base + np.asarray(vals, dtype=float), color=col, lw=2.8,
            solid_joinstyle="round", solid_capstyle="round", zorder=3 + i * 0.01)

ax.add_patch(Polygon(np.column_stack([colloc_x, colloc_y]), closed=True,
                     fill=False, edgecolor="#00b050", lw=5.8,
                     joinstyle="miter", zorder=4))

# band separators and time gridlines
ax.set_yticks(range(0, 13))
ax.set_yticklabels([])
ax.tick_params(axis="y", length=0)
ax.yaxis.grid(True, color="black", lw=2.0)
ax.set_xticks(xticks)
ax.set_xticks(range(5, 240, 10), minor=True)
ax.xaxis.grid(True, which="major", color="#595959", lw=1.8,
              linestyle=(0, (4.2, 3.4)))
ax.set_axisbelow(True)
ax.tick_params(axis="x", which="major", length=8.5, width=2.0, color="black",
               direction="out", pad=15, labelsize=20, labelcolor="#1a1a1a")
ax.tick_params(axis="x", which="minor", length=5.5, width=2.0, color="black",
               direction="out")
for sp in ax.spines.values():
    sp.set_color("black")
    sp.set_linewidth(2.0)
ax.spines["top"].set_color("#404040")
ax.spines["top"].set_linewidth(1.5)

# title box
ax.add_patch(Rectangle((7.1, 10.52), 29.0, 1.17, facecolor="white",
                       edgecolor="none", alpha=0.5, zorder=6))
ax.text(8.5, 10.78, "TSI 3321", color="#ff0000", fontsize=30,
        fontweight="bold", family=["Lato", "DejaVu Sans"], ha="left",
        va="baseline", zorder=7)

handles = [Line2D([], [], color=c, lw=3.0, solid_capstyle="butt")
           for c in colors]
handles.append(Line2D([], [], color="#00b050", lw=4.5, solid_capstyle="butt"))
leg = fig.legend(handles, labels + ["collocation"], loc="upper left",
                 bbox_to_anchor=(1572 / 1865, 1 - 39.5 / 765), frameon=False,
                 prop={"family": ["Liberation Sans", "DejaVu Sans"],
                       "size": 17.5},
                 handlelength=2.7, handletextpad=0.28, labelspacing=1.257,
                 borderpad=0, borderaxespad=0)
for t in leg.get_texts():
    t.set_color("#1a1a1a")

fig.savefig("out.png", dpi=100)
